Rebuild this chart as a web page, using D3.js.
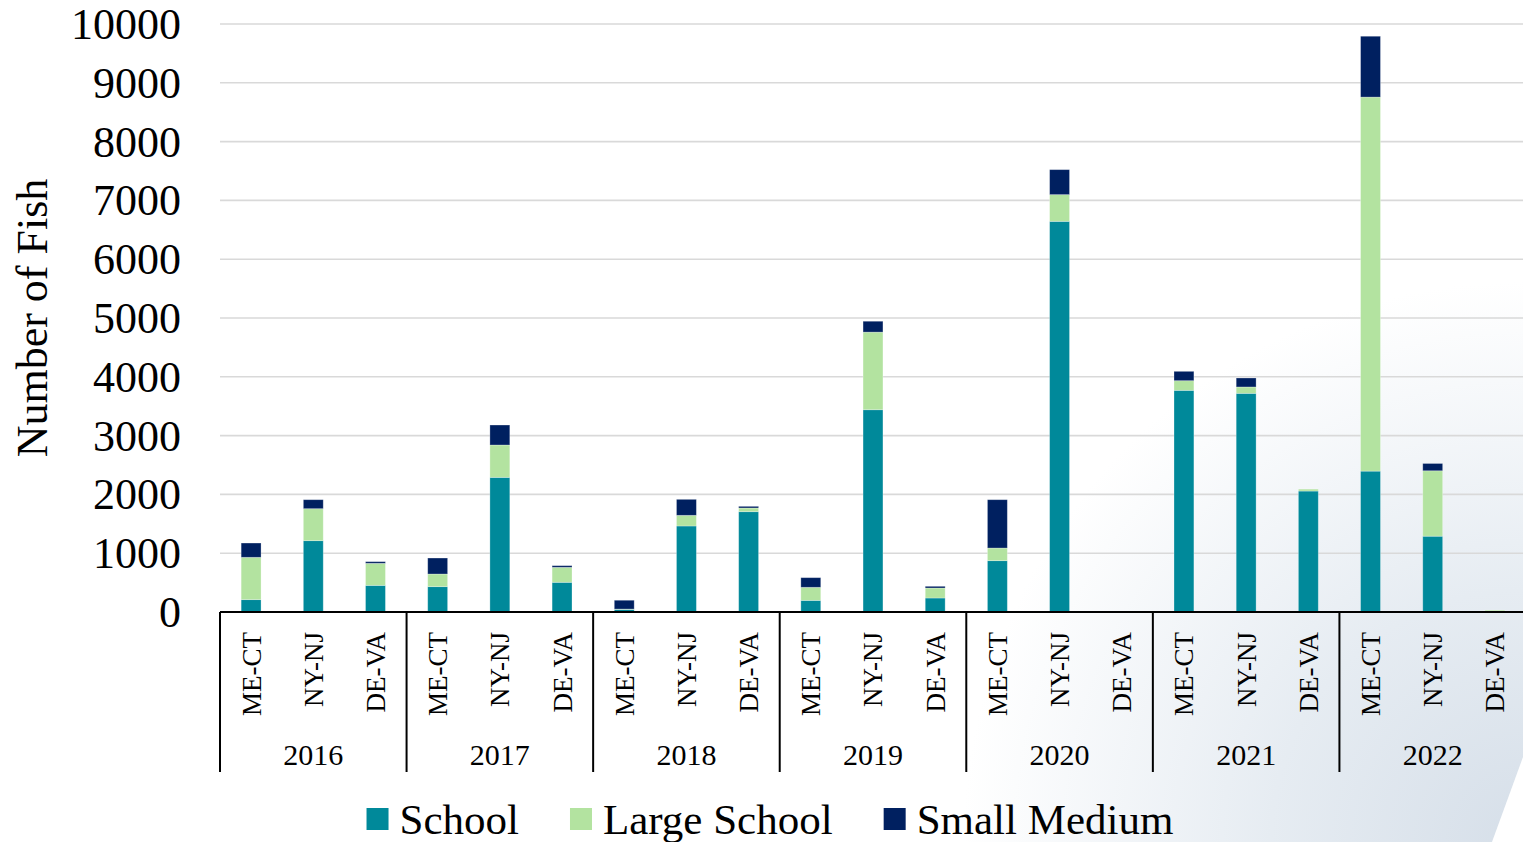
<!DOCTYPE html>
<html>
<head>
<meta charset="utf-8">
<script src="https://cdn.jsdelivr.net/npm/d3@7"></script>
<style>
  html, body { margin: 0; padding: 0; background: #ffffff; }
  svg { display: block; font-family: "Liberation Serif", "Times New Roman", serif; }
</style>
</head>
<body>
<svg id="chart" width="1523" height="842"></svg>
<script>
// ---- data ----
const years = ["2016", "2017", "2018", "2019", "2020", "2021", "2022"];
const regions = ["ME-CT", "NY-NJ", "DE-VA"];
const seriesNames = ["School", "Large School", "Small Medium"];
const seriesColors = ["#00899a", "#b3e3a0", "#002060"];
// values in order: year by year, ME-CT, NY-NJ, DE-VA
const school       = [210, 1213, 453,  431, 2290, 505,  45, 1463, 1706,  198, 3440, 238,  873, 6644, 0,  3770, 3719, 2057,  2396, 1289, 5];
const largeSchool  = [720,  544, 375,  215,  550, 255,   5,  181,   63,  222, 1320, 170,  215,  454, 0,   164,  108,   33,  6361, 1113, 25];
const smallMedium  = [243,  153,  28,  272,  340,  28, 150,  272,   28,  164,  185,  29,  822,  425, 0,   159,  153,    0,  1035,  124, 0];
const yTicks = [0, 1000, 2000, 3000, 4000, 5000, 6000, 7000, 8000, 9000, 10000];
const yTitle = "Number of Fish";

// ---- build table ----
const rows = [];
years.forEach((yr, i) => regions.forEach((rg, j) => {
  const k = i * regions.length + j;
  rows.push({ key: yr + "|" + rg, year: yr, region: rg,
    "School": school[k], "Large School": largeSchool[k], "Small Medium": smallMedium[k] });
}));

const svg = d3.select("#chart");
const W = 1523, H = 842;

// ---- background tint at bottom right ----
const defs = svg.append("defs");
const rg = defs.append("radialGradient").attr("id", "bgGrad")
  .attr("gradientUnits", "userSpaceOnUse")
  .attr("cx", 1523).attr("cy", 842).attr("r", 560);
rg.append("stop").attr("offset", "0%").attr("stop-color", "#d6dfe9");
rg.append("stop").attr("offset", "45%").attr("stop-color", "#e6ecf2");
rg.append("stop").attr("offset", "100%").attr("stop-color", "#ffffff");
svg.append("rect").attr("width", W).attr("height", H).attr("fill", "url(#bgGrad)");
svg.append("polygon").attr("points", "1523,757 1523,842 1492,842").attr("fill", "#ffffff");

// ---- scales ----
const plotLeft = 220, plotRight = 1526, plotTop = 24, plotBottom = 612;
const x = d3.scaleBand().domain(rows.map(d => d.key))
  .range([plotLeft, plotRight]).paddingInner(0.68).paddingOuter(0.34);
const y = d3.scaleLinear().domain([0, 10000]).range([plotBottom, plotTop]);

// ---- gridlines ----
svg.append("g").selectAll("line").data(yTicks.filter(t => t > 0)).join("line")
  .attr("x1", plotLeft).attr("x2", W)
  .attr("y1", d => y(d)).attr("y2", d => y(d))
  .attr("stroke", "#d9d9d9").attr("stroke-width", 1.6);

// ---- y axis labels ----
const yAxis = d3.axisLeft(y).tickValues(yTicks).tickSize(0).tickPadding(0).tickFormat(d3.format("d"));
const yg = svg.append("g").attr("transform", "translate(181,0)").call(yAxis);
yg.select(".domain").remove();
yg.selectAll("text").attr("font-size", 44).attr("fill", "#000")
  .attr("font-family", "Liberation Serif, serif").attr("dy", "0.33em").attr("x", 0);

svg.append("text")
  .attr("transform", `translate(47,${(plotTop + plotBottom) / 2}) rotate(-90)`)
  .attr("text-anchor", "middle").attr("font-size", 44).attr("fill", "#000")
  .text(yTitle);

// ---- stacked bars ----
const stack = d3.stack().keys(seriesNames)(rows);
const color = d3.scaleOrdinal().domain(seriesNames).range(seriesColors);
svg.append("g").selectAll("g").data(stack).join("g")
  .attr("fill", d => color(d.key))
  .selectAll("rect").data(d => d).join("rect")
  .attr("x", d => x(d.data.key))
  .attr("width", x.bandwidth())
  .attr("y", d => y(d[1]))
  .attr("height", d => Math.max(0, y(d[0]) - y(d[1])))
  .attr("stroke", "rgba(255,255,255,0.35)").attr("stroke-width", 0.8);

// ---- x axis ----
svg.append("line").attr("x1", plotLeft).attr("x2", W)
  .attr("y1", plotBottom).attr("y2", plotBottom)
  .attr("stroke", "#000").attr("stroke-width", 2);

const step = x.step();
const groupW = step * regions.length;
const seps = d3.range(years.length).map(i => plotLeft + i * groupW);
svg.append("g").selectAll("line").data(seps).join("line")
  .attr("x1", d => d).attr("x2", d => d)
  .attr("y1", plotBottom).attr("y2", 772)
  .attr("stroke", "#000").attr("stroke-width", 2);

// category labels
svg.append("g").selectAll("text").data(rows).join("text")
  .attr("transform", d => `translate(${x(d.key) + x.bandwidth() / 2},632) rotate(-90)`)
  .attr("text-anchor", "end").attr("dy", "0.35em")
  .attr("font-size", 27).attr("fill", "#000")
  .text(d => d.region);

// year labels
svg.append("g").selectAll("text").data(years).join("text")
  .attr("x", (d, i) => plotLeft + i * groupW + groupW / 2)
  .attr("y", 765)
  .attr("text-anchor", "middle").attr("font-size", 30).attr("fill", "#000")
  .text(d => d);

// ---- legend ----
const lg = svg.append("g");
const items = lg.selectAll("g").data(seriesNames).join("g");
items.append("rect").attr("width", 22).attr("height", 22).attr("y", 808)
  .attr("fill", d => color(d));
items.append("text").attr("y", 834).attr("font-size", 43).attr("fill", "#000").text(d => d);
let cx = 0;
const widths = [];
items.each(function () { widths.push(d3.select(this).select("text").node().getComputedTextLength()); });
const total = d3.sum(widths) + seriesNames.length * 33 + (seriesNames.length - 1) * 51;
cx = 770 - total / 2;
items.each(function (d, i) {
  const g = d3.select(this);
  g.select("rect").attr("x", cx);
  g.select("text").attr("x", cx + 33);
  cx += 33 + widths[i] + 51;
});
</script>
</body>
</html>
